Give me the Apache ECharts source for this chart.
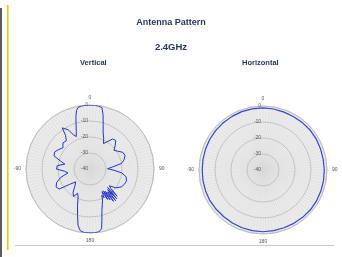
<!DOCTYPE html>
<html style="height: 100%">
<head>
  <meta charset="utf-8">
</head>
<body style="height: 100%; margin: 0; background: #fff">
  <div id="container" style="width: 342px; height: 257px"></div>

  <script type="text/javascript" src="https://fastly.jsdelivr.net/npm/echarts@6.0.0/dist/echarts.min.js"></script>
  <script type="text/javascript">
    // gain, degrees / dB
    // vertical cut, right half (0 -> 180, clockwise)
    var vRightAngle = [0, 4, 8, 11, 13.5, 16.5, 20, 24, 28, 32, 37, 42, 47, 52, 57, 63, 69, 75, 80, 85, 89, 93, 97, 102, 108, 114, 120, 126, 131,
      133, 135, 136.5, 138, 139.5, 141, 142.5, 144, 145.5, 147, 148.5, 150, 152, 154, 156, 158, 161, 164, 167, 169, 172, 176, 180];
    var vRightGain = [0, 0, -0.3, -1, -5, -11, -16, -19, -22, -20, -16.5, -16, -18.5, -21, -19.5, -17, -16.5, -18, -20, -26, -29, -25, -20, -17, -16, -16.5, -17.5, -20, -24,
      -22, -16, -24, -15, -23, -14.5, -22, -15, -23, -17, -24, -18, -24, -20, -22, -19, -16.5, -13, -7, -2, -0.3, 0, 0];
    // vertical cut, left half (0 -> -180, counter-clockwise)
    var vLeftAngle = [0, -4, -8, -11, -13, -15, -17.5, -20, -23, -26, -29, -32, -34, -36, -40, -46, -52, -58, -64, -70, -75, -79, -84, -90, -95, -100,
      -106, -112, -118, -123, -127, -132, -138, -144, -149, -153, -157, -161, -165, -168, -171, -175, -180];
    var vLeftGain = [0, 0, -0.3, -0.8, -2.5, -6, -11, -15, -18, -16, -12, -8.5, -9, -14, -17, -16.5, -18.5, -17, -15.5, -16, -21, -24, -19.5, -19, -24, -26,
      -21, -17.5, -16, -17, -24, -28, -26, -22, -20, -23, -21, -16, -10, -4, -1, 0, 0];

    // horizontal cut, every 10 degrees from 0 (clockwise)
    var hAngle = [0, 10, 20, 30, 40, 50, 60, 70, 80, 90, 100, 110, 120, 130, 140, 150, 160, 170, 180,
      190, 200, 210, 220, 230, 240, 250, 260, 270, 280, 290, 300, 310, 320, 330, 340, 350, 360];
    var hGain = [-1.2, -1.3, -1.5, -1.6, -1.5, -1.4, -1.5, -1.7, -1.8, -1.7, -1.6, -1.5, -1.4, -1.3, -1.4, -1.5, -1.6, -1.5, -1.4,
      -1.5, -1.6, -1.8, -1.9, -1.8, -1.7, -1.8, -1.9, -2.0, -1.9, -1.8, -1.6, -1.5, -1.4, -1.3, -1.2, -1.2, -1.2];

    var ringTicks = [0, -10, -20, -30, -40];
    var angleLabels = { 0: '0', 90: '90', 180: '180', 270: '-90' };

    var vData = [];
    for (var i = 0; i < vRightAngle.length; i++) vData.push([vRightGain[i], vRightAngle[i]]);
    for (var j = vLeftAngle.length - 1; j >= 0; j--) vData.push([vLeftGain[j], vLeftAngle[j] + 360]);
    var hData = hAngle.map(function (a, k) { return [hGain[k], a]; });

    var dom = document.getElementById('container');
    var myChart = echarts.init(dom, null, { renderer: 'canvas' });

    var font = 'Liberation Sans';
    var titleColor = '#26345c';
    var centers = [[90, 169], [263, 170]];

    // polars 0,1 carry the grid and data; polars 2,3 only paint the grey disc underneath
    function angleAxis(idx) {
      return {
        polarIndex: idx,
        type: 'value',
        min: 0,
        max: 360,
        interval: 3,
        startAngle: 90,
        clockwise: true,
        z: 2,
        axisLine: { lineStyle: { color: '#cfcfcf', width: 1 } },
        axisTick: { show: false },
        axisLabel: {
          margin: 5,
          fontSize: 5,
          color: '#555',
          fontFamily: font,
          formatter: function (v) { return angleLabels[v] || ''; }
        },
        splitLine: { show: true, lineStyle: { color: '#d8d8d8', width: 0.5 } }
      };
    }

    function radiusAxis(idx) {
      return {
        polarIndex: idx,
        type: 'value',
        min: -40,
        max: 0,
        interval: 10,
        z: 3,
        axisLine: { show: false },
        axisTick: { show: false },
        axisLabel: {
          margin: 2,
          fontSize: 5,
          color: '#555',
          fontFamily: font,
          formatter: function (v) { return ringTicks.indexOf(v) >= 0 ? String(v) : ''; }
        },
        splitLine: { show: true, lineStyle: { color: '#ababab', width: 0.6 } }
      };
    }

    function discAngle(idx) {
      return {
        polarIndex: idx, type: 'value', min: 0, max: 360, interval: 90, startAngle: 90, z: 0,
        axisLine: { show: false }, axisTick: { show: false }, axisLabel: { show: false },
        splitLine: { show: false },
        splitArea: { show: true, areaStyle: { color: ['#ebebeb'] } }
      };
    }

    function discRadius(idx) {
      return {
        polarIndex: idx, type: 'value', min: -40, max: 0, z: 0,
        axisLine: { show: false }, axisTick: { show: false }, axisLabel: { show: false },
        splitLine: { show: false }
      };
    }

    var option = {
      animation: false,
      title: [
        { text: 'Antenna Pattern', left: 'center', top: 18, padding: 0,
          textStyle: { fontSize: 9, fontWeight: 'bold', color: titleColor, fontFamily: font } },
        { text: '2.4GHz', left: 'center', top: 42, padding: 0,
          textStyle: { fontSize: 9.5, fontWeight: 'bold', color: titleColor, fontFamily: font } },
        { text: 'Vertical', left: 80, top: 59, padding: 0,
          textStyle: { fontSize: 7.5, fontWeight: 'bold', color: titleColor, fontFamily: font } },
        { text: 'Horizontal', left: 242, top: 59, padding: 0,
          textStyle: { fontSize: 7.5, fontWeight: 'bold', color: titleColor, fontFamily: font } }
      ],
      graphic: [
        { type: 'rect', shape: { x: 0, y: 8, width: 2, height: 249 }, style: { fill: '#5a5a5a' } },
        { type: 'rect', shape: { x: 7, y: 5, width: 1.6, height: 245 }, style: { fill: '#f3c300' } },
        { type: 'line', shape: { x1: 15, y1: 245.5, x2: 334, y2: 245.5 }, style: { stroke: '#c8c8c8', lineWidth: 1 } }
      ],
      polar: [
        { center: centers[0], radius: [0, 64] },
        { center: centers[1], radius: [0, 64] },
        { center: centers[0], radius: [0, 64] },
        { center: centers[1], radius: [0, 64] }
      ],
      angleAxis: [angleAxis(0), angleAxis(1), discAngle(2), discAngle(3)],
      radiusAxis: [radiusAxis(0), radiusAxis(1), discRadius(2), discRadius(3)],
      series: [
        {
          name: 'Vertical',
          type: 'line',
          coordinateSystem: 'polar',
          polarIndex: 0,
          data: vData,
          symbol: 'none',
          z: 5,
          lineStyle: { color: '#2632c9', width: 1 }
        },
        {
          name: 'Horizontal',
          type: 'line',
          coordinateSystem: 'polar',
          polarIndex: 1,
          data: hData,
          symbol: 'none',
          z: 5,
          lineStyle: { color: '#3742d6', width: 1.2 }
        }
      ]
    };

    myChart.setOption(option);
    window.addEventListener('resize', myChart.resize);
  </script>
</body>
</html>
